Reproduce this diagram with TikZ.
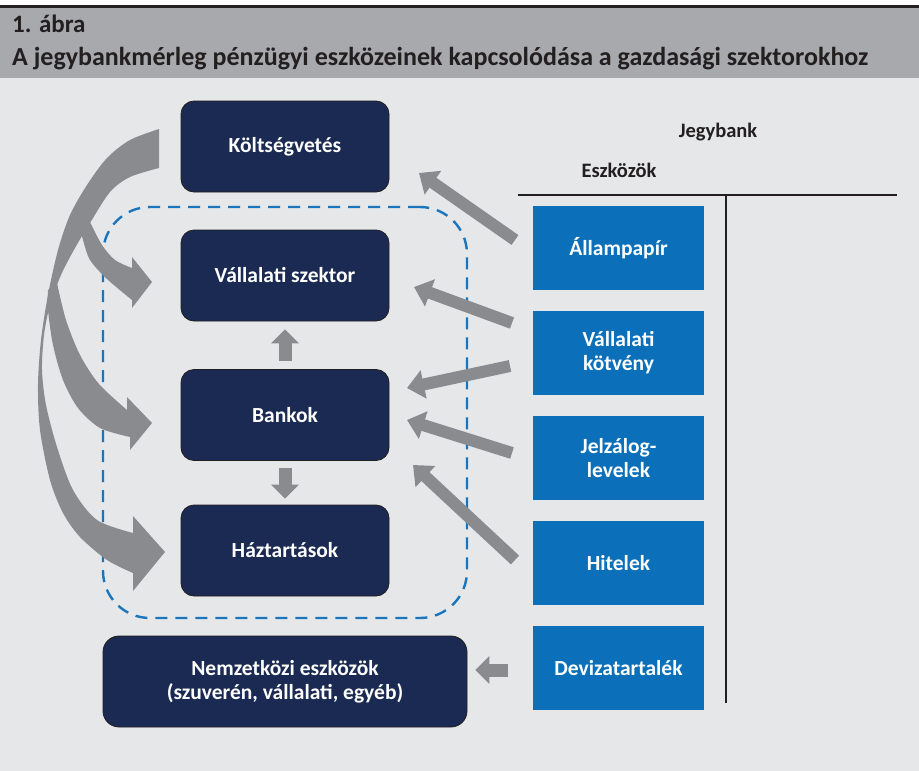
\documentclass[tikz,border=0pt]{standalone}
\usepackage{fontspec}
\setmainfont{Carlito}
\usetikzlibrary{arrows.meta}
\definecolor{navy}{RGB}{27,42,82}
\definecolor{boxblue}{RGB}{11,112,185}
\definecolor{arrowgray}{RGB}{138,139,143}
\definecolor{bggray}{RGB}{230,231,232}
\definecolor{headgray}{RGB}{167,169,172}
\definecolor{dashblue}{RGB}{26,117,188}
\definecolor{ink}{RGB}{35,31,32}
\tikzset{
  navybox/.style={draw=ink, line width=0.8pt, fill=navy, rounded corners=13pt,
    minimum width=208pt, minimum height=91pt, text=white, inner sep=0pt,
    font=\bfseries\fontsize{21.5}{24}\selectfont, align=center},
  bluebox/.style={fill=boxblue, minimum width=171pt, minimum height=84pt,
    text=white, inner sep=0pt, font=\bfseries\fontsize{21.5}{24}\selectfont, align=center},
  garrow/.style={draw=arrowgray, line width=12pt, -{Triangle[length=17pt,width=28pt]}},
  sarrow/.style={draw=arrowgray, line width=13pt, -{Triangle[length=14pt,width=27pt]}},
  label/.style={anchor=base, inner sep=0pt, text=ink, font=\bfseries\fontsize{20.5}{23}\selectfont},
  rule/.style={draw=ink, line width=2.2pt}
}
\begin{document}
\begin{tikzpicture}[x=1pt,y=-1pt]
\useasboundingbox (0,0) rectangle (919,771);
\fill[white] (0,0) rectangle (919,771);
\fill[bggray] (0,78) rectangle (919,771);
\fill[headgray] (0,7) rectangle (919,78);
\fill[ink] (0,4.5) rectangle (919,7.5);

\node[anchor=base west, inner sep=0pt, text=ink, font=\bfseries\fontsize{25}{28}\selectfont] (fig) at (12,32) {1. ábra};
\node[anchor=base west, inner sep=0pt, text=ink, font=\bfseries\fontsize{26}{30}\selectfont] (title) at (12,65) {A jegybankmérleg pénzügyi eszközeinek kapcsolódása a gazdasági szektorokhoz};

% dashed group
\node[draw=dashblue, line width=2.4pt, dash pattern=on 12pt off 8pt, rounded corners=47pt,
  minimum width=364pt, minimum height=411pt, inner sep=0pt] (grp) at (285,412.5) {};

% curved arrows (left)
\fill[arrowgray] plot[smooth] coordinates {(159,129) (130,140) (107,158) (87,185) (70,215) (58,250) (48,295) (41,340) (38,385) (40,430) (50,480) (63,513) (80,537) (107,560) (133,573)}
  -- (133,591) -- (165,552) -- (133,516) --
  plot[smooth] coordinates {(133,533) (97,520) (73,490) (57,447) (46,405) (42,370) (44,335) (50,305) (61,275) (75,248) (90,223) (110,192) (130,177) (159,168)} -- cycle;
\fill[arrowgray] plot[smooth] coordinates {(57,283) (66,320) (80,355) (99,384) (127,410)}
  -- (127,397) -- (152,423) -- (130,450) --
  plot[smooth] coordinates {(130,437) (100,428) (78,408) (63,380) (53,345) (48,310) (48,290)} -- cycle;
\fill[arrowgray] plot[smooth] coordinates {(90,222) (102,245) (115,260) (132,268)}
  -- (132,257) -- (152,282) -- (132,308) --
  plot[smooth] coordinates {(132,300) (107,279) (90,260) (83,240) (80,228)} -- cycle;

% navy boxes
\node[navybox] (kolt) at (285,146.5) {Költségvetés};
\node[navybox] (vall) at (285,275.5) {Vállalati szektor};
\node[navybox] (bank) at (285,415) {Bankok};
\node[navybox] (haz) at (285,550.5) {Háztartások};
\node[navybox, minimum width=364pt, rounded corners=16pt] (nemz) at (285,681.5) {Nemzetközi eszközök\\(szuverén, vállalati, egyéb)};

% blue boxes
\node[bluebox] (allam) at (618.5,248) {Állampapír};
\node[bluebox] (kotv) at (618.5,353) {Vállalati\\kötvény};
\node[bluebox] (jelz) at (618.5,458) {Jelzálog-\\levelek};
\node[bluebox] (hit) at (618.5,563) {Hitelek};
\node[bluebox] (dev) at (618.5,668) {Devizatartalék};

% balance sheet
\node[label] (jegy) at (718,137) {Jegybank};
\node[label] (eszk) at (619,177) {Eszközök};
\coordinate (hl) at (518,195);
\coordinate (hr) at (897,195);
\coordinate (vt) at (726,195);
\coordinate (vb) at (726,703);
\draw[rule] (hl) -- (hr);
\draw[rule] (vt) -- (vb);

% small arrows
\draw[sarrow] ([yshift=8pt]bank.north) -- ([yshift=-8pt]vall.south);
\draw[sarrow] ([yshift=-7pt]bank.south) -- ([yshift=6pt]haz.north);
\draw[sarrow] ([xshift=-25pt,yshift=-2pt]dev.west) -- ([xshift=8pt,yshift=-2pt]dev.west -| nemz.east);

% diagonal arrows
\coordinate (a1s) at (515,240); \coordinate (a1e) at (419,173);
\coordinate (a2s) at (512,323); \coordinate (a2e) at (414,287);
\coordinate (a3s) at (510,366); \coordinate (a3e) at (407,388);
\coordinate (a4s) at (512,453); \coordinate (a4e) at (407,420);
\coordinate (a5s) at (515,560); \coordinate (a5e) at (413,465);
\draw[garrow] (a1s) -- (a1e);
\draw[garrow] (a2s) -- (a2e);
\draw[garrow] (a3s) -- (a3e);
\draw[garrow] (a4s) -- (a4e);
\draw[garrow] (a5s) -- (a5e);
\end{tikzpicture}
\end{document}
